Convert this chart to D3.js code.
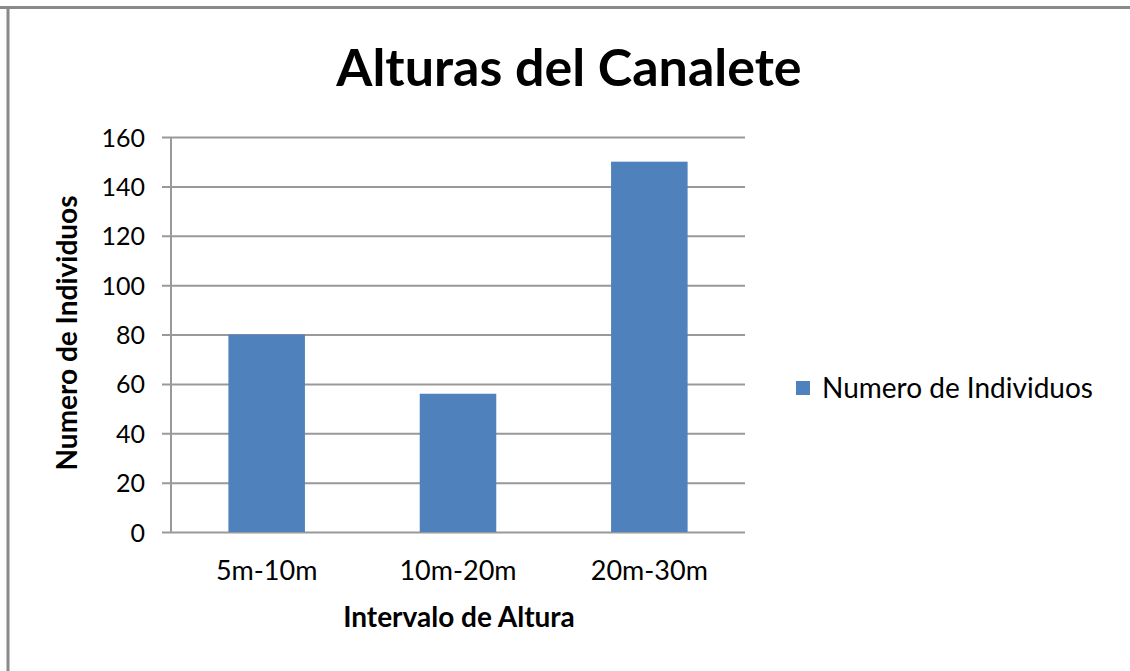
<!DOCTYPE html>
<html>
<head>
<meta charset="utf-8">
<script src="https://cdn.jsdelivr.net/npm/d3@7"></script>
<style>
  body { margin: 0; background: #fff; }
  text { font-family: Lato, "Open Sans", sans-serif; fill: #000; }
</style>
</head>
<body>
<div id="chart"></div>
<script>
// data
var categories = ["5m-10m", "10m-20m", "20m-30m"];
var values     = [80, 56, 150];
var yTicks     = [0, 20, 40, 60, 80, 100, 120, 140, 160];
var seriesName = "Numero de Individuos";

var width  = 1130,
    height = 671;
var margin = {top: 137, right: 385, bottom: 139, left: 171};
var plotW  = width - margin.left - margin.right,
    plotH  = height - margin.top - margin.bottom;

var svg = d3.select("#chart")
    .append("svg")
    .attr("width", width)
    .attr("height", height);

// frame (only top and left edges visible)
svg.append("line")
    .attr("x1", 0).attr("x2", width)
    .attr("y1", 7.5).attr("y2", 7.5)
    .attr("stroke", "#8a8a8a").attr("stroke-width", 3);
svg.append("line")
    .attr("x1", 8).attr("x2", 8)
    .attr("y1", 6).attr("y2", height)
    .attr("stroke", "#8a8a8a").attr("stroke-width", 3);

// title
svg.append("text")
    .attr("x", 569)
    .attr("y", 86)
    .attr("text-anchor", "middle")
    .style("font-size", "52px")
    .style("font-weight", "bold")
    .text("Alturas del Canalete");

var g = svg.append("g")
    .attr("transform", "translate(" + margin.left + "," + margin.top + ")");

/// Scales ///
var x = d3.scaleBand()
    .domain(categories)
    .range([0, plotW])
    .paddingInner(0.6)
    .paddingOuter(0.3);

var y = d3.scaleLinear()
    .domain([0, 160])
    .range([plotH, 0]);

/// Grid + y axis ///
var yAxis = g.append("g")
    .call(d3.axisLeft(y).tickValues(yTicks).tickSize(-(plotW + 9)).tickPadding(17))
    .attr("transform", "translate(-9,0)");
yAxis.select(".domain").remove();
yAxis.selectAll(".tick line")
    .attr("stroke", "#999")
    .attr("stroke-width", 2);
yAxis.selectAll(".tick text")
    .style("font-size", "25px")
    .attr("dy", "0.36em");

// vertical axis line
g.append("line")
    .attr("x1", 0).attr("x2", 0)
    .attr("y1", 0).attr("y2", plotH)
    .attr("stroke", "#999").attr("stroke-width", 2);

/// Bars ///
g.selectAll("rect.bar")
    .data(values)
    .enter()
    .append("rect")
    .attr("class", "bar")
    .attr("x", function (d, i) { return x(categories[i]); })
    .attr("y", function (d) { return y(d); })
    .attr("width", x.bandwidth())
    .attr("height", function (d) { return plotH - y(d); })
    .attr("fill", "#4f81bd");

/// X axis labels ///
var xAxis = g.append("g")
    .attr("transform", "translate(0," + plotH + ")")
    .call(d3.axisBottom(x).tickSize(0).tickPadding(29));
xAxis.select(".domain").remove();
xAxis.selectAll(".tick text")
    .style("font-size", "27px");

/// Axis titles ///
svg.append("text")
    .attr("x", 459)
    .attr("y", 627)
    .attr("text-anchor", "middle")
    .style("font-size", "28px")
    .style("font-weight", "bold")
    .text("Intervalo de Altura");

svg.append("text")
    .attr("transform", "translate(77,333) rotate(-90)")
    .attr("text-anchor", "middle")
    .style("font-size", "28px")
    .style("font-weight", "bold")
    .text(seriesName);

/// Legend ///
var legend = svg.append("g")
    .attr("transform", "translate(796,381)");
legend.append("rect")
    .attr("width", 14).attr("height", 14)
    .attr("fill", "#4f81bd");
legend.append("text")
    .attr("x", 26)
    .attr("y", 7)
    .attr("dy", "0.36em")
    .style("font-size", "28px")
    .text(seriesName);
</script>
</body>
</html>
